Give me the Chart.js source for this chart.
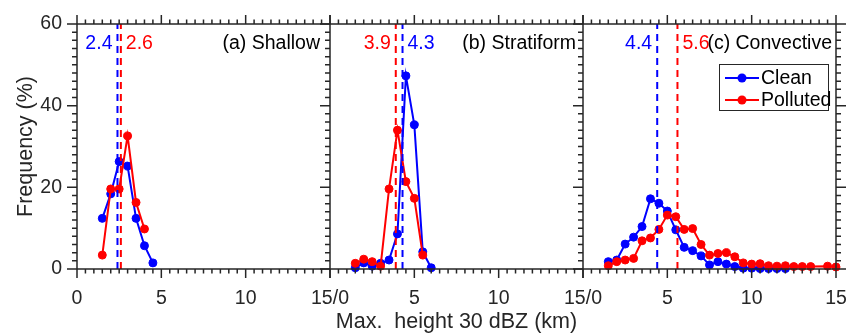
<!DOCTYPE html>
<html lang="en">
<head>
    <meta charset="UTF-8">
    <title>Max. height 30 dBZ</title>
    <script src="https://cdn.jsdelivr.net/npm/chart.js"></script>
    <style>
        body {
            margin: 0;
            padding: 0;
            background: white;
        }
        #wrap {
            width: 847px;
            height: 336px;
        }
    </style>
</head>
<body>
    <div id="wrap"><canvas id="heightChart" width="847" height="336"></canvas></div>

    <script>
        // height bins (km)
        const bins = [1.5, 2, 2.5, 3, 3.5, 4, 4.5, 5, 5.5, 6, 6.5, 7, 7.5, 8, 8.5, 9, 9.5, 10,
                      10.5, 11, 11.5, 12, 12.5, 13, 13.5, 14, 14.5, 15];

        // frequency (%), one value per bin starting at 1.5 km
        const shallowClean = [12.4, 18.4, 26.3, 25.2, 12.4, 5.7, 1.5];
        const shallowPolluted = [3.4, 19.6, 19.6, 32.6, 16.3, 9.8];
        const stratClean = [0.3, 1.5, 0.7, 1.4, 2.2, 8.6, 47.3, 35.3, 4.2, 0.3];
        const stratPolluted = [1.4, 2.4, 1.8, 0.7, 19.6, 34.0, 21.4, 17.3, 3.4];
        const convClean = [1.8, 2.2, 6.1, 7.8, 10.4, 17.2, 16.1, 14.2, 9.6, 5.3, 4.5, 3.2, 1.0, 1.8,
                           1.2, 0.6, 0.2, 0.2, 0.1, 0.1, 0.1, 0.1];
        const convPolluted = [0.8, 1.8, 2.2, 2.6, 6.9, 7.6, 9.7, 13.2, 12.8, 9.7, 9.9, 6.0, 3.4, 3.8,
                              4.0, 3.0, 1.5, 1.2, 1.3, 0.8, 0.7, 0.8, 0.6, 0.6, 0.6, null, 0.7, 0.5];

        // mean heights (dashed lines)
        const meanClean = [2.4, 4.3, 4.4];
        const meanPolluted = [2.6, 3.9, 5.6];

        const panelTitles = ['(a) Shallow', '(b) Stratiform', '(c) Convective'];
        const seriesNames = ['Clean', 'Polluted'];
        const xTicks = [0, 5, 10, 15];
        const yTicks = [0, 20, 40, 60];

        const BLUE = '#0000ff';
        const RED = '#ff0000';
        const INK = '#262626';
        const FONT = "'Liberation Sans', Arial, sans-serif";

        const panelIds = ['xa', 'xb', 'xc'];
        const cleanSets = [shallowClean, stratClean, convClean];
        const pollutedSets = [shallowPolluted, stratPolluted, convPolluted];

        function toPoints(vals) {
            return vals.map((v, i) => ({x: bins[i], y: v}));
        }

        function seriesDataset(label, vals, color, axis, order) {
            return {
                label: label,
                data: toPoints(vals),
                xAxisID: axis,
                yAxisID: 'y',
                borderColor: color,
                backgroundColor: color,
                borderWidth: 2,
                pointRadius: 4,
                pointBorderWidth: 1,
                pointHoverRadius: 4,
                spanGaps: true,
                tension: 0,
                clip: false,
                order: order
            };
        }

        function meanDataset(m, color, axis) {
            return {
                data: [{x: m, y: 0}, {x: m, y: 60}],
                xAxisID: axis,
                yAxisID: 'y',
                borderColor: color,
                borderWidth: 2,
                borderDash: [7, 5],
                pointRadius: 0,
                clip: false,
                order: 0
            };
        }

        const datasets = [];
        panelIds.forEach((id, p) => {
            datasets.push(seriesDataset(seriesNames[0], cleanSets[p], BLUE, id, 2));
            datasets.push(seriesDataset(seriesNames[1], pollutedSets[p], RED, id, 1));
            datasets.push(meanDataset(meanClean[p], BLUE, id));
            datasets.push(meanDataset(meanPolluted[p], RED, id));
        });

        function tickLabel(p) {
            return function (v) {
                if (v === 0 && p > 0) return '';
                if (v === 15 && p < 2) return '15/0';
                return String(v);
            };
        }

        function xScale(p) {
            return {
                type: 'linear',
                position: 'bottom',
                stack: 'panels',
                stackWeight: 1,
                min: 0,
                max: 15,
                afterBuildTicks: s => { s.ticks = xTicks.map(v => ({value: v})); },
                ticks: {
                    callback: tickLabel(p),
                    color: INK,
                    font: {family: FONT, size: 19.5},
                    padding: 18,
                    maxRotation: 0,
                    autoSkip: false
                },
                grid: {display: false, drawTicks: false},
                border: {display: false},
                title: {
                    display: p === 1,
                    text: 'Max.  height 30 dBZ (km)',
                    color: INK,
                    font: {family: FONT, size: 21.5},
                    padding: {top: 0, bottom: 1}
                },
                afterFit: s => {
                    s.height = 67;
                    s.paddingLeft = 0;
                    s.paddingRight = 0;
                }
            };
        }

        // box, ticks, labels and legend in Matlab style
        const framePlugin = {
            id: 'frame',
            afterDraw(chart) {
                const ctx = chart.ctx;
                const area = chart.chartArea;
                const y = chart.scales.y;
                const T = area.top, B = area.bottom;
                ctx.save();
                ctx.strokeStyle = INK;
                ctx.lineWidth = 1.5;

                panelIds.forEach((id, p) => {
                    const s = chart.scales[id];
                    const L = s.left, R = s.right;
                    ctx.beginPath();
                    ctx.moveTo(L, T); ctx.lineTo(R, T);
                    ctx.moveTo(L, B); ctx.lineTo(R, B);
                    ctx.moveTo(L, T); ctx.lineTo(L, B);
                    if (p === 2) { ctx.moveTo(R, T); ctx.lineTo(R, B); }
                    for (let v = 0; v <= 15; v += 0.5) {
                        const px = s.getPixelForValue(v);
                        const len = v % 5 === 0 ? 9 : 4.5;
                        ctx.moveTo(px, B); ctx.lineTo(px, B + len);
                        ctx.moveTo(px, T); ctx.lineTo(px, T - len);
                    }
                    for (let v = 0; v <= 60; v += 2) {
                        const py = y.getPixelForValue(v);
                        const len = v % 20 === 0 ? 10 : 5;
                        ctx.moveTo(L - len, py); ctx.lineTo(L, py);
                        if (p === 2) { ctx.moveTo(R, py); ctx.lineTo(R + len, py); }
                    }
                    ctx.stroke();

                    // mean labels and panel title
                    ctx.font = '19.5px ' + FONT;
                    ctx.textBaseline = 'alphabetic';
                    const ty = T + 24.5;
                    const mc = meanClean[p], mp = meanPolluted[p];
                    const lo = Math.min(mc, mp), hi = Math.max(mc, mp);
                    ctx.fillStyle = lo === mc ? BLUE : RED;
                    ctx.textAlign = 'right';
                    ctx.fillText(lo.toFixed(1), s.getPixelForValue(lo) - 5, ty);
                    ctx.fillStyle = hi === mc ? BLUE : RED;
                    ctx.textAlign = 'left';
                    ctx.fillText(hi.toFixed(1), s.getPixelForValue(hi) + 5, ty);
                    ctx.fillStyle = 'black';
                    ctx.textAlign = 'right';
                    ctx.fillText(panelTitles[p], R - [10, 7, 4][p], ty);
                });

                // legend in panel c
                const sc = chart.scales.xc;
                const bx = sc.right - 117, by = T + 40, bw = 109, bh = 46;
                ctx.fillStyle = 'white';
                ctx.fillRect(bx, by, bw, bh);
                ctx.lineWidth = 1;
                ctx.strokeStyle = INK;
                ctx.strokeRect(bx + 0.5, by + 0.5, bw, bh);
                [BLUE, RED].forEach((c, i) => {
                    const ly = by + 14 + i * 22;
                    ctx.strokeStyle = c;
                    ctx.fillStyle = c;
                    ctx.lineWidth = 2;
                    ctx.beginPath();
                    ctx.moveTo(bx + 6, ly); ctx.lineTo(bx + 40, ly);
                    ctx.stroke();
                    ctx.beginPath();
                    ctx.arc(bx + 23, ly, 4.5, 0, Math.PI * 2);
                    ctx.fill();
                    ctx.fillStyle = 'black';
                    ctx.textAlign = 'left';
                    ctx.textBaseline = 'middle';
                    ctx.fillText(seriesNames[i], bx + 42, ly + 1);
                });
                ctx.restore();
            }
        };

        const ctx = document.getElementById('heightChart').getContext('2d');
        const heightChart = new Chart(ctx, {
            type: 'line',
            data: {datasets: datasets},
            options: {
                responsive: false,
                animation: false,
                layout: {padding: {top: 24, right: 11, left: 0, bottom: 0}},
                plugins: {
                    legend: {display: false},
                    tooltip: {enabled: false}
                },
                scales: {
                    xa: xScale(0),
                    xb: xScale(1),
                    xc: xScale(2),
                    y: {
                        type: 'linear',
                        position: 'left',
                        min: 0,
                        max: 60,
                        afterBuildTicks: s => { s.ticks = yTicks.map(v => ({value: v})); },
                        ticks: {
                            color: INK,
                            font: {family: FONT, size: 19.5},
                            padding: 15
                        },
                        grid: {display: false, drawTicks: false},
                        border: {display: false},
                        title: {
                            display: true,
                            text: 'Frequency (%)',
                            color: INK,
                            font: {family: FONT, size: 21.5},
                            padding: {top: 13, bottom: 0}
                        },
                        afterFit: s => {
                            s.width = 77;
                            s.paddingTop = 0;
                            s.paddingBottom = 0;
                        }
                    }
                }
            },
            plugins: [framePlugin]
        });
    </script>
</body>
</html>
